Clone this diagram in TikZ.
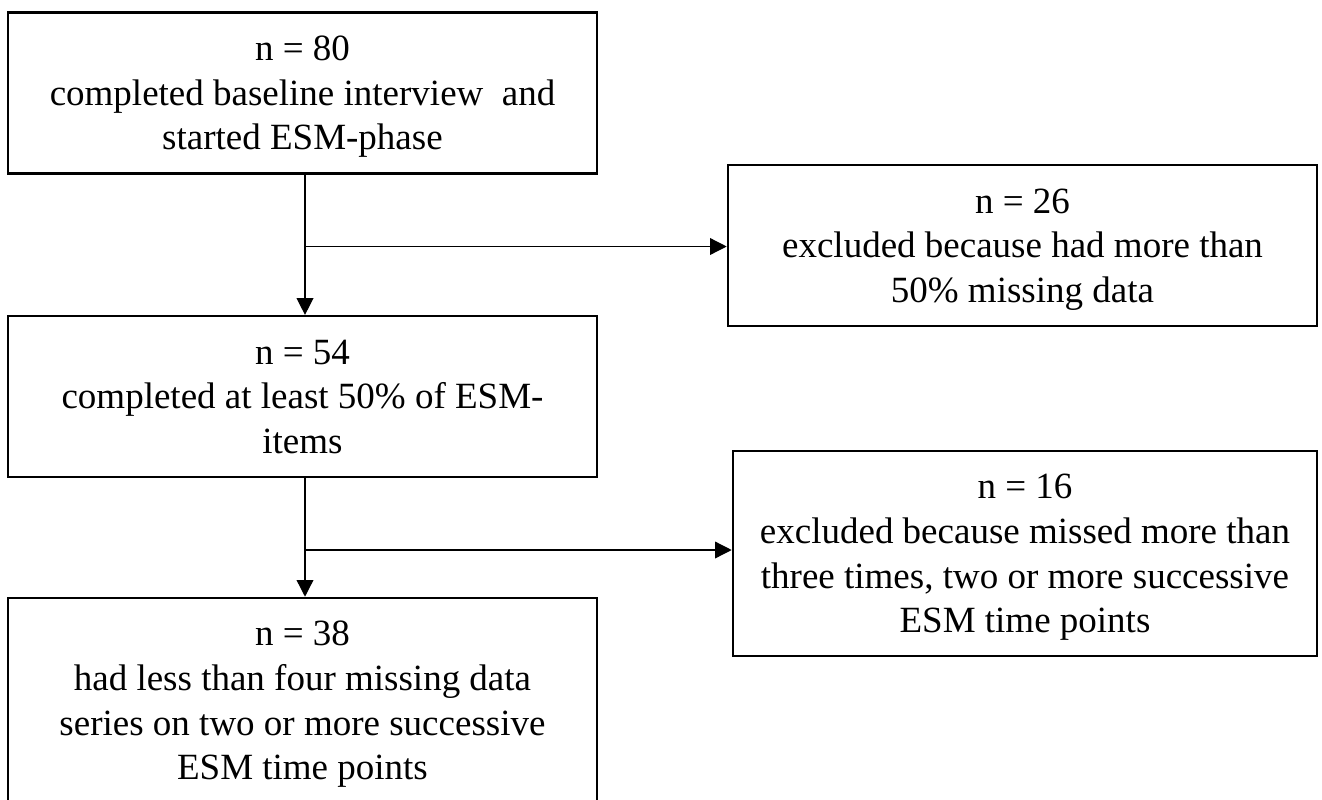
\documentclass[tikz,border=0pt]{standalone}
\usepackage{fontspec}
\setmainfont{Liberation Serif}
\usetikzlibrary{arrows.meta}
\begin{document}
\begin{tikzpicture}[x=0.75pt,y=-0.75pt,
  box/.style={draw=black,line width=1.9pt,rectangle,inner sep=0pt,align=center,
    font=\fontsize{27.75}{33.5}\selectfont,minimum width=441.75pt,text depth=0pt},
  shortbox/.style={box,minimum height=120.5pt},
  tallbox/.style={box,minimum height=153.75pt},
  conn/.style={draw=black,line width=1pt,-{Triangle[length=12.5pt,width=12.5pt]}}]
\clip (0,0) rectangle (1322,800);
\fill[white] (0,0) rectangle (1322,800);
\node[shortbox] (b1) at (302.5,93) {n = 80\\completed baseline interview\ \ and\\started ESM-phase};
\node[shortbox] (b2) at (1022.5,245.5) {n = 26\\excluded because had more than\\50\% missing data};
\node[shortbox] (b3) at (302.5,396.5) {n = 54\\completed at least 50\% of ESM-\\items};
\node[tallbox,minimum width=438pt] (b4) at (1025,553.5) {n = 16\\excluded because missed more than\\three times, two or more successive\\ESM time points};
\node[tallbox] (b5) at (302.5,700.5) {n = 38\\had less than four missing data\\series on two or more successive\\ESM time points};
\coordinate (j1) at (305,246.5);
\coordinate (j2) at (305,550);
\draw[conn] (b1.south -| j1) -- (b3.north -| j1);
\draw[conn] (j1) -- (j1 -| b2.west);
\draw[conn] (b3.south -| j2) -- (b5.north -| j2);
\draw[conn] (j2) -- (j2 -| b4.west);
\end{tikzpicture}
\end{document}
